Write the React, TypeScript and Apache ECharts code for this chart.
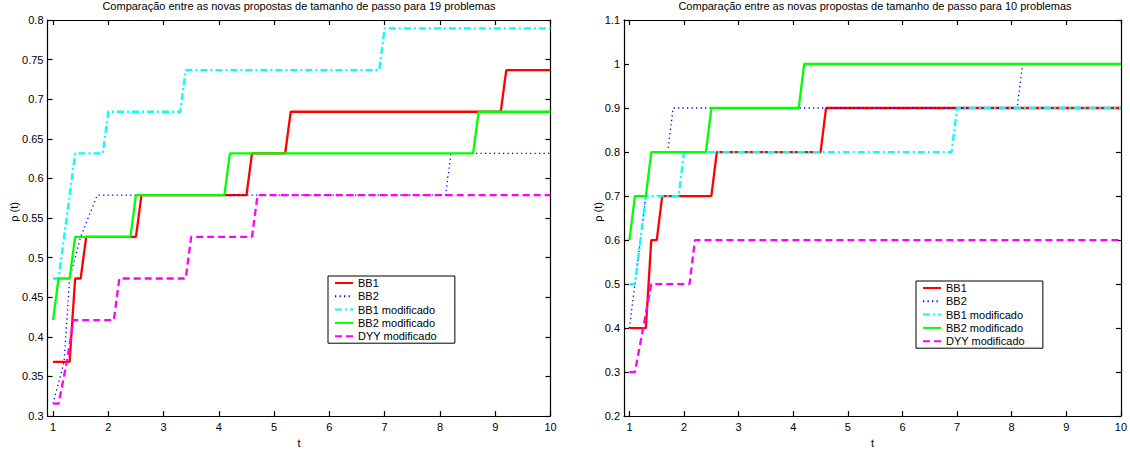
import React, { useEffect, useRef } from "react";
import * as echarts from "echarts";

// ---- Data ----
const seriesNames = ["BB1", "BB2", "BB1 modificado", "BB2 modificado", "DYY modificado"];
const xTicks = [1, 2, 3, 4, 5, 6, 7, 8, 9, 10];

const titleLeft = "Comparação entre as novas propostas de tamanho de passo para 19 problemas";
const titleRight = "Comparação entre as novas propostas de tamanho de passo para 10 problemas";
const yAxisName = "ρ (t)";
const xAxisName = "t";

// Left plot: 19 problems
const leftBB1: [number, number][] = [
  [1, 0.3684], [1.3, 0.3684], [1.4, 0.4737], [1.5, 0.4737], [1.6, 0.5263], [2.5, 0.5263],
  [2.6, 0.5789], [4.5, 0.5789], [4.6, 0.6316], [5.2, 0.6316], [5.3, 0.6842], [9.1, 0.6842],
  [9.2, 0.7368], [10, 0.7368],
];
const leftBB2: [number, number][] = [
  [1, 0.3158], [1.2, 0.3684], [1.3, 0.4737], [1.5, 0.5263], [1.8, 0.5789], [8.1, 0.5789],
  [8.2, 0.6316], [10, 0.6316],
];
const leftBB1mod: [number, number][] = [
  [1, 0.4737], [1.1, 0.4737], [1.2, 0.5263], [1.3, 0.5789], [1.4, 0.6316], [1.9, 0.6316],
  [2.0, 0.6842], [3.3, 0.6842], [3.4, 0.7368], [6.9, 0.7368], [7.0, 0.7895], [10, 0.7895],
];
const leftBB2mod: [number, number][] = [
  [1, 0.4211], [1.1, 0.4737], [1.3, 0.4737], [1.4, 0.5263], [2.4, 0.5263], [2.5, 0.5789],
  [4.1, 0.5789], [4.2, 0.6316], [8.6, 0.6316], [8.7, 0.6842], [10, 0.6842],
];
const leftDYY: [number, number][] = [
  [1, 0.3158], [1.1, 0.3158], [1.25, 0.3684], [1.37, 0.4211], [2.1, 0.4211], [2.2, 0.4737],
  [3.4, 0.4737], [3.5, 0.5263], [4.6, 0.5263], [4.7, 0.5789], [10, 0.5789],
];

// Right plot: 10 problems
const rightBB1: [number, number][] = [
  [1, 0.4], [1.3, 0.4], [1.4, 0.6], [1.5, 0.6], [1.6, 0.7], [2.5, 0.7], [2.6, 0.8],
  [4.5, 0.8], [4.6, 0.9], [10, 0.9],
];
const rightBB2: [number, number][] = [
  [1, 0.4], [1.1, 0.5], [1.2, 0.6], [1.3, 0.7], [1.4, 0.8], [1.7, 0.8], [1.8, 0.9],
  [8.1, 0.9], [8.2, 1.0], [10, 1.0],
];
const rightBB1mod: [number, number][] = [
  [1, 0.5], [1.1, 0.5], [1.2, 0.6], [1.3, 0.7], [1.9, 0.7], [2.0, 0.8], [6.9, 0.8],
  [7.0, 0.9], [10, 0.9],
];
const rightBB2mod: [number, number][] = [
  [1, 0.6], [1.1, 0.7], [1.3, 0.7], [1.4, 0.8], [2.4, 0.8], [2.5, 0.9], [4.1, 0.9],
  [4.2, 1.0], [10, 1.0],
];
const rightDYY: [number, number][] = [
  [1, 0.3], [1.1, 0.3], [1.25, 0.4], [1.4, 0.5], [2.1, 0.5], [2.2, 0.6], [10, 0.6],
];

const FONT = "'Liberation Sans', Arial, Helvetica, sans-serif";

const styles = [
  { color: "#ff0000", width: 2.3, type: "solid" as any },
  { color: "#0000ff", width: 1.3, type: [1.3, 3.2] as any },
  { color: "#00ffff", width: 2.3, type: [7, 3, 2, 3] as any },
  { color: "#00ff00", width: 2.3, type: "solid" as any },
  { color: "#ff00ff", width: 2.3, type: [7, 4] as any },
];

function makeSeries(datas: [number, number][][], xi: number, yi: number) {
  return datas.map((d, i) => ({
    name: seriesNames[i],
    type: "line",
    xAxisIndex: xi,
    yAxisIndex: yi,
    data: d,
    symbol: "none",
    showSymbol: false,
    lineStyle: { ...styles[i] },
    itemStyle: { color: styles[i].color },
    z: 2 + i,
    clip: true,
  }));
}

const axisLineStyle = { color: "#000", width: 1.2 };

function xAxes(gridIndex: number) {
  return [
    {
      type: "value",
      gridIndex,
      position: "bottom",
      min: 0.9,
      max: 10,
      name: xAxisName,
      nameLocation: "middle",
      nameGap: 16,
      nameTextStyle: { fontSize: 11, color: "#000", fontFamily: FONT },
      axisLine: { show: true, onZero: false, lineStyle: axisLineStyle },
      axisTick: { show: true, inside: true, length: 5, customValues: xTicks, lineStyle: axisLineStyle },
      axisLabel: { show: true, customValues: xTicks, fontSize: 11, color: "#000", fontFamily: FONT, margin: 5 },
      splitLine: { show: false },
    },
    {
      type: "value",
      gridIndex,
      position: "top",
      min: 0.9,
      max: 10,
      axisLine: { show: true, onZero: false, lineStyle: axisLineStyle },
      axisTick: { show: true, inside: true, length: 5, customValues: xTicks, lineStyle: axisLineStyle },
      axisLabel: { show: false },
      splitLine: { show: false },
    },
  ];
}

function yAxes(gridIndex: number, min: number, max: number, interval: number) {
  return [
    {
      type: "value",
      gridIndex,
      position: "left",
      min,
      max,
      interval,
      axisLine: { show: true, onZero: false, lineStyle: axisLineStyle },
      axisTick: { show: true, inside: true, length: 5, lineStyle: axisLineStyle },
      axisLabel: { show: true, fontSize: 11, color: "#000", fontFamily: FONT, margin: 4 },
      splitLine: { show: false },
    },
    {
      type: "value",
      gridIndex,
      position: "right",
      min,
      max,
      interval,
      axisLine: { show: true, onZero: false, lineStyle: axisLineStyle },
      axisTick: { show: true, inside: true, length: 5, lineStyle: axisLineStyle },
      axisLabel: { show: false },
      splitLine: { show: false },
    },
  ];
}

function legendAt(left: number, top: number) {
  return {
    data: seriesNames,
    orient: "vertical",
    left,
    top,
    itemWidth: 18,
    itemHeight: 8,
    itemGap: 1.3,
    padding: [1, 18, 1, 6],
    backgroundColor: "#fff",
    borderColor: "#000",
    borderWidth: 1,
    borderRadius: 0,
    selectedMode: false,
    itemStyle: { opacity: 0, color: "rgba(0,0,0,0)", borderColor: "rgba(0,0,0,0)", borderWidth: 0 },
    textStyle: { fontSize: 11, color: "#000", fontFamily: FONT, lineHeight: 12 },
  };
}

function yName(x: number, y: number) {
  return {
    type: "text",
    x,
    y,
    rotation: Math.PI / 2,
    style: {
      text: yAxisName,
      fill: "#000",
      font: `11px ${FONT}`,
      align: "center",
      verticalAlign: "middle",
    },
  };
}

export default function App() {
  const ref = useRef<HTMLDivElement>(null);
  useEffect(() => {
    if (!ref.current) return;
    const chart = echarts.init(ref.current, undefined, { renderer: "svg" });
    const option: any = {
      animation: false,
      backgroundColor: "#fff",
      textStyle: { fontFamily: FONT },
      title: [
        {
          text: titleLeft,
          left: 299,
          top: 0,
          textAlign: "center",
          padding: 0,
          textStyle: { fontSize: 11, fontWeight: "normal", color: "#000", fontFamily: FONT },
        },
        {
          text: titleRight,
          left: 875,
          top: 0,
          textAlign: "center",
          padding: 0,
          textStyle: { fontSize: 11, fontWeight: "normal", color: "#000", fontFamily: FONT },
        },
      ],
      grid: [
        { left: 47.5, top: 20, width: 503, height: 400 },
        { left: 624, top: 20, width: 501, height: 400 },
      ],
      xAxis: [...xAxes(0), ...xAxes(1)],
      yAxis: [...yAxes(0, 0.3, 0.8, 0.05), ...yAxes(1, 0.2, 1.1, 0.1)],
      legend: [legendAt(328, 276), legendAt(916, 281)],
      graphic: [yName(14, 212), yName(598, 212)],
      series: [
        ...makeSeries([leftBB1, leftBB2, leftBB1mod, leftBB2mod, leftDYY], 0, 0),
        ...makeSeries([rightBB1, rightBB2, rightBB1mod, rightBB2mod, rightDYY], 2, 2),
      ],
    };
    chart.setOption(option);
    return () => chart.dispose();
  }, []);
  return (
    <div
      ref={ref}
      style={{ position: "absolute", left: 0, top: 0, width: 1130, height: 453, background: "#fff" }}
    />
  );
}
